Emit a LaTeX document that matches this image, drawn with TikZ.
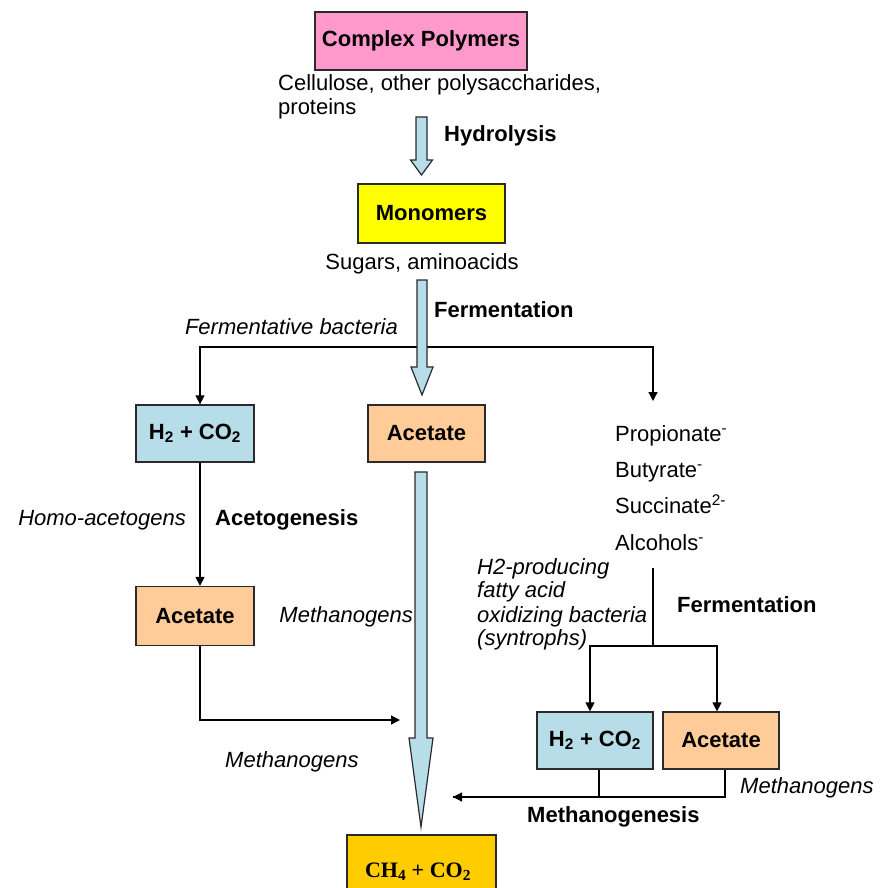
\documentclass[tikz,border=0pt]{standalone}
\usepackage{fontspec}
\setmainfont{Liberation Sans}
\newfontfamily\serifbold{Liberation Serif}
\usetikzlibrary{arrows.meta}

\definecolor{polypink}{HTML}{FF99CC}
\definecolor{monoyellow}{HTML}{FFFF00}
\definecolor{gasblue}{HTML}{B7DEE8}
\definecolor{acpeach}{HTML}{FFCC99}
\definecolor{prodgold}{HTML}{FFCC00}
\definecolor{edge}{HTML}{2A2A2A}

\newcommand\basesize{\fontsize{22}{26}\selectfont}

\tikzset{
  box/.style={draw=edge, line width=1.3pt, rectangle, inner sep=0pt,
              font=\basesize\bfseries},
  lbl/.style={inner sep=0pt, anchor=base west, font=\basesize},
  lblit/.style={lbl, font=\basesize\itshape},
  lblbf/.style={lbl, font=\basesize\bfseries},
  link/.style={draw=black, line width=1.3pt},
  conn/.style={link, -{Triangle[length=9pt,width=9pt]}},
  bigarrow/.style={fill=gasblue, draw=edge, line width=1.2pt, line join=miter}
}

% hollow block arrow: centre x, top y, head start y, tip y, half shaft, half head
\newcommand\blockarrow[6]{%
  \path[bigarrow] (#1-#5,#2) -- (#1+#5,#2) -- (#1+#5,#3) -- (#1+#6,#3)
    -- (#1,#4) -- (#1-#6,#3) -- (#1-#5,#3) -- cycle;}

\begin{document}
\begin{tikzpicture}[x=1pt, y=-1pt]
\useasboundingbox (0,0) rectangle (879,888);
\clip (0,0) rectangle (879,888);

% ---- boxes ----
\node[box, fill=polypink, minimum width=212pt, minimum height=58pt] (poly) at (421,41) {Complex Polymers};
\node[box, fill=monoyellow, minimum width=147pt, minimum height=59pt] (mono) at (431.5,213.5) {Monomers};
\node[box, fill=gasblue, minimum width=118pt, minimum height=57pt] (h2a) at (195,433.5) {H\textsubscript{2} + CO\textsubscript{2}};
\node[box, fill=acpeach, minimum width=117pt, minimum height=57pt] (acm) at (426.5,433.5) {Acetate};
\node[box, fill=acpeach, minimum width=118pt, minimum height=59pt] (acl) at (195,616) {Acetate};
\node[box, fill=gasblue, minimum width=116pt, minimum height=57pt] (h2b) at (595,740.5) {H\textsubscript{2} + CO\textsubscript{2}};
\node[box, fill=acpeach, minimum width=116pt, minimum height=57pt] (acr) at (721,740.5) {Acetate};
\node[box, fill=prodgold, minimum width=149pt, minimum height=70pt] (ch4) at (421.5,870) {};
\node[inner sep=0pt, anchor=base, font=\basesize\serifbold\bfseries] (ch4t) at (418,877) {CH\textsubscript{4} + CO\textsubscript{2}};

% ---- labels ----
\node[lbl] (cell) at (278,91) {Cellulose, other polysaccharides,};
\node[lbl] (prot) at (278,115) {proteins};
\node[lblbf] (hyd) at (444,142) {Hydrolysis};
\node[lbl, anchor=base] (sug) at (422,269) {Sugars, aminoacids};
\node[lblbf] (ferm1) at (434,317) {Fermentation};
\node[lblit, anchor=base east] (fbac) at (398,334) {Fermentative bacteria};
\node[lblit, anchor=base east] (homo) at (186,525) {Homo-acetogens};
\node[lblbf] (acg) at (215,525) {Acetogenesis};
\node[lblit, anchor=base east] (meth1) at (413,622) {Methanogens};
\node[lblit] (meth2) at (225,767) {Methanogens};
\node[lbl] (prop) at (615,441) {Propionate\textsuperscript{-}};
\node[lbl] (buty) at (615,477) {Butyrate\textsuperscript{-}};
\node[lbl] (succ) at (615,513) {Succinate\textsuperscript{2-}};
\node[lbl] (alco) at (615,550) {Alcohols\textsuperscript{-}};
\node[lblit] (syn1) at (477,574) {H2-producing};
\node[lblit] (syn2) at (477,597) {fatty acid};
\node[lblit] (syn3) at (477,622) {oxidizing bacteria};
\node[lblit] (syn4) at (477,645) {(syntrophs)};
\node[lblbf] (ferm2) at (677,612) {Fermentation};
\node[lblbf] (mgen) at (527,822) {Methanogenesis};
\node[lblit] (meth3) at (740,793) {Methanogens};

% ---- junction points ----
\coordinate (split) at (421,347);
\coordinate (acidin) at (653,401);
\coordinate (acidout) at (653,568);
\coordinate (fork) at (653,646);
\coordinate (leftin) at (400,720);
\coordinate (rightin) at (453,797);

% ---- thin connectors ----
\draw[conn] (split) -| ([xshift=5pt]h2a.north);
\draw[conn] (split) -| (acidin);
\draw[conn] ([xshift=5pt]h2a.south) -- ([xshift=5pt]acl.north);
\draw[conn] ([xshift=5pt]acl.south) |- (leftin);
\draw[link] (acidout) -- (fork);
\draw[conn] (fork) -| ([xshift=-5pt]h2b.north);
\draw[conn] (fork) -| ([xshift=-4pt]acr.north);
\draw[conn] ([xshift=4pt]acr.south) |- (rightin);
\draw[link] ([xshift=4pt]h2b.south) |- (rightin);

% ---- block arrows ----
\blockarrow{421.5}{117}{160}{175}{5.5}{11}
\blockarrow{422}{280}{367}{395}{5}{11}
\blockarrow{421}{472}{738}{827}{6}{12}
\end{tikzpicture}
\end{document}
